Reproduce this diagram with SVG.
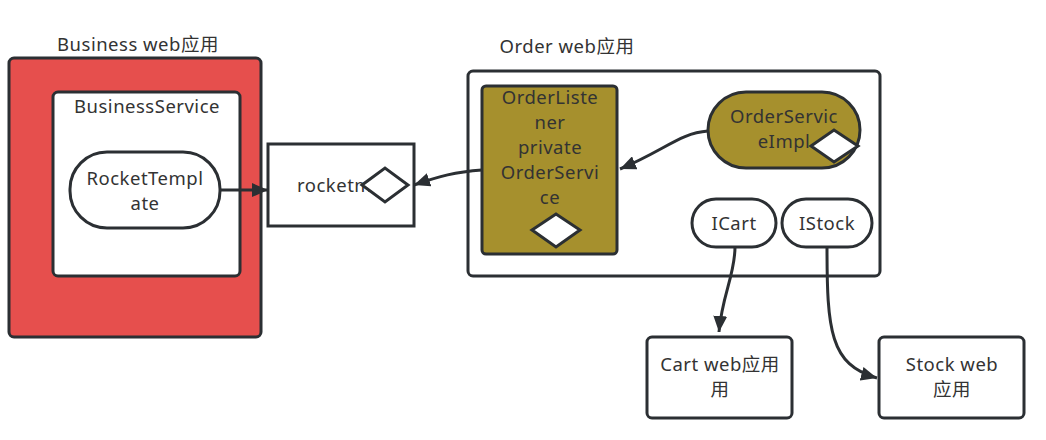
<svg xmlns="http://www.w3.org/2000/svg" width="1046" height="440" viewBox="0 0 1046 440">
<style>
.t{font-family:"Noto Sans","Noto Sans CJK SC",sans-serif;font-size:18.5px;letter-spacing:0.5px;fill:#333;text-anchor:middle}
.s{stroke:#2b2f33;stroke-width:3}
.c{fill:none;stroke:#2b2f33;stroke-width:3}
.d{fill:#fff;stroke:#2b2f33;stroke-width:3}
</style>
<defs>
<marker id="a" markerUnits="userSpaceOnUse" markerWidth="18" markerHeight="14" refX="16" refY="7" orient="auto">
<path d="M0,0 L16,7 L0,14 z" fill="#2b2f33"/>
</marker>
</defs>
<rect width="1046" height="440" fill="#fff"/>
<g id="business">
<text class="t" x="138" y="51">Business web应用</text>
<rect class="s" x="9" y="58" width="252" height="279" rx="5" fill="#e64f4d"/>
</g>
<g id="businessService">
<rect class="s" x="53" y="92" width="187" height="184" rx="5" fill="#fff"/>
<text class="t" x="147" y="113">BusinessService</text>
</g>
<g id="rocketTemplate">
<rect class="s" x="70" y="152" width="150" height="76" rx="37" fill="#fff"/>
<text class="t" x="145" y="185">RocketTempl</text>
<text class="t" x="145" y="210">ate</text>
</g>
<g id="rocketmq">
<rect class="s" x="268" y="144" width="146" height="82" fill="#fff"/>
<text class="t" x="297" y="192" style="text-anchor:start">rocketmq</text>
<path class="d" d="M362,185 L385,168 L408,185 L385,202 z"/>
</g>
<g id="order">
<text class="t" x="567" y="53">Order web应用</text>
<rect class="s" x="468" y="71" width="412" height="205" rx="5" fill="#fff"/>
</g>
<g id="orderListener">
<rect class="s" x="482" y="86" width="135" height="168" rx="4" fill="#a6902d"/>
<text class="t" x="550" y="104">OrderListe</text>
<text class="t" x="550" y="129">ner</text>
<text class="t" x="550" y="154">private</text>
<text class="t" x="550" y="179">OrderServi</text>
<text class="t" x="550" y="204">ce</text>
<path class="d" d="M532,230 L556,214 L580,230 L556,247 z"/>
</g>
<g id="orderServiceImpl">
<rect class="s" x="708" y="92" width="152" height="76" rx="38" fill="#a6902d"/>
<text class="t" x="784" y="123">OrderServic</text>
<text class="t" x="784" y="148">eImpl</text>
<path class="d" d="M811,146 L834,130 L858,146 L834,162 z"/>
</g>
<g id="icart">
<rect class="s" x="692" y="199" width="84" height="48" rx="24" fill="#fff"/>
<text class="t" x="734" y="230">ICart</text>
</g>
<g id="istock">
<rect class="s" x="782" y="199" width="90" height="48" rx="24" fill="#fff"/>
<text class="t" x="827" y="230">IStock</text>
</g>
<g id="cart">
<rect class="s" x="647" y="337" width="145" height="81" rx="5" fill="#fff"/>
<text class="t" x="720" y="371">Cart web应用</text>
<text class="t" x="720" y="396">用</text>
</g>
<g id="stock">
<rect class="s" x="879" y="337" width="145" height="81" rx="5" fill="#fff"/>
<text class="t" x="952" y="371">Stock web</text>
<text class="t" x="952" y="396">应用</text>
</g>
<g id="connectors">
<path class="c" d="M220,190 L268,190" marker-end="url(#a)"/>
<path class="c" d="M482,170 C455,172 440,176 414,185" marker-end="url(#a)"/>
<path class="c" d="M708,131 C680,133 665,150 620,169" marker-end="url(#a)"/>
<path class="c" d="M735,247 C735,275 722,295 719,332" marker-end="url(#a)"/>
<path class="c" d="M827,247 C827,330 830,365 877,378" marker-end="url(#a)"/>
</g>
</svg>
